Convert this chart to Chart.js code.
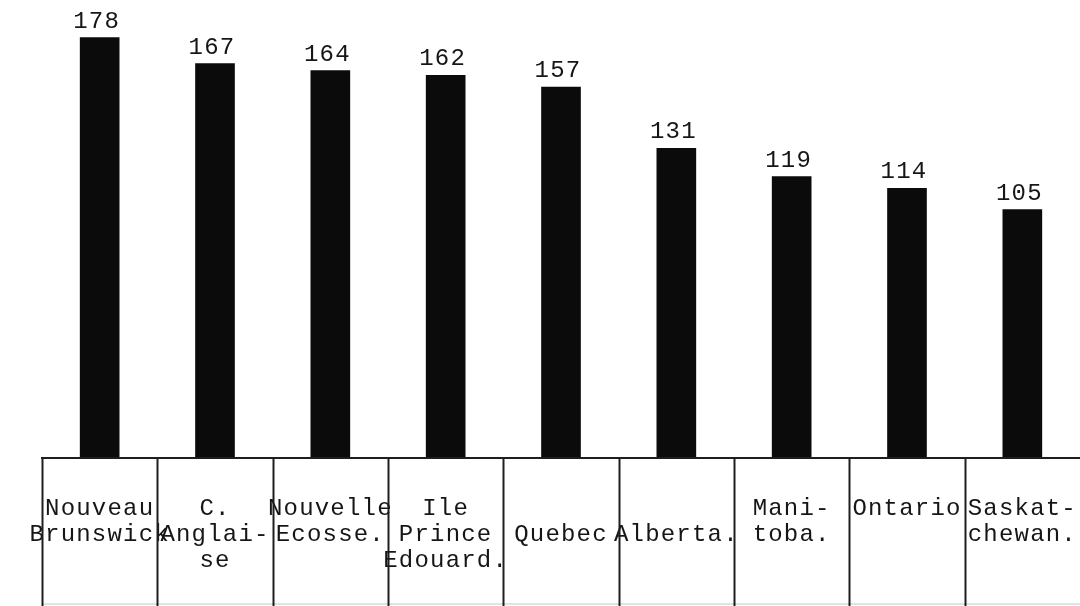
<!DOCTYPE html>
<html>
<head>
<meta charset="utf-8">
<script src="https://cdn.jsdelivr.net/npm/chart.js@4/dist/chart.umd.min.js"></script>
<style>
  html, body { margin: 0; padding: 0; background: #ffffff; }
  #wrap { width: 1080px; height: 606px; position: relative; }
</style>
</head>
<body>
<div id="wrap"><canvas id="c"></canvas></div>
<script>
// ---- data ----
const categories = [
  ["Nouveau", "Brunswick"],
  ["C.", "Anglai-", "se"],
  ["Nouvelle", "Ecosse."],
  ["Ile", "Prince", "Edouard."],
  ["", "Quebec"],
  ["", "Alberta."],
  ["Mani-", "toba."],
  ["Ontario"],
  ["Saskat-", "chewan."]
];
const values = [178, 167, 164, 162, 157, 131, 119, 114, 105];

const INK = '#161616';
const FONT = { family: '"Liberation Mono", "DejaVu Sans Mono", monospace', size: 24, lineHeight: '26px' };

const typewriterPlugin = {
  id: 'typewriter',
  beforeDraw(chart) {
    const ctx = chart.ctx;
    ctx.save();
    ctx.fillStyle = '#ffffff';
    ctx.fillRect(0, 0, chart.width, chart.height);
    ctx.restore();
    ctx.letterSpacing = '1.2px';
  },
  afterDraw(chart) {
    const ctx = chart.ctx;
    const area = chart.chartArea;
    const xs = chart.scales.x;
    const n = categories.length;
    const w = (xs.right - xs.left) / n;
    ctx.save();
    ctx.strokeStyle = '#1e1e1e';
    ctx.lineWidth = 2;
    // table top line
    ctx.beginPath();
    ctx.moveTo(xs.left - 1, area.bottom + 1);
    ctx.lineTo(chart.width, area.bottom + 1);
    ctx.stroke();
    // cell separators
    for (let i = 0; i < n; i++) {
      const x = Math.round(xs.getPixelForValue(i) - w / 2) + 0.5;
      ctx.beginPath();
      ctx.moveTo(x, area.bottom);
      ctx.lineTo(x, chart.height);
      ctx.stroke();
    }
    // faint bottom line
    ctx.strokeStyle = 'rgba(0,0,0,0.15)';
    ctx.lineWidth = 1.5;
    ctx.beginPath();
    ctx.moveTo(xs.left, chart.height - 2);
    ctx.lineTo(chart.width, chart.height - 2);
    ctx.stroke();
    // value labels
    const meta = chart.getDatasetMeta(0);
    ctx.fillStyle = INK;
    ctx.font = FONT.size + 'px ' + FONT.family;
    ctx.letterSpacing = '1.2px';
    ctx.textAlign = 'center';
    ctx.textBaseline = 'alphabetic';
    meta.data.forEach((bar, i) => {
      ctx.fillText(String(values[i]), bar.x - 3, bar.y - 10);
    });
    ctx.restore();
  }
};

new Chart(document.getElementById('c'), {
  type: 'bar',
  data: {
    labels: categories,
    datasets: [{
      data: values,
      backgroundColor: '#0b0b0b',
      borderWidth: 0,
      barThickness: 39
    }]
  },
  options: {
    responsive: true,
    maintainAspectRatio: false,
    animation: false,
    devicePixelRatio: 1,
    layout: { padding: { left: 42, right: 0, top: 0, bottom: 0 } },
    plugins: {
      legend: { display: false },
      tooltip: { enabled: false },
      title: { display: false }
    },
    scales: {
      y: {
        display: false,
        min: 0,
        max: 194
      },
      x: {
        offset: true,
        grid: { display: false, drawTicks: false },
        border: { display: false },
        ticks: {
          color: INK,
          font: FONT,
          padding: 39,
          autoSkip: false,
          maxRotation: 0,
          minRotation: 0
        },
        afterFit(scale) {
          scale.height = 149;
          scale.paddingLeft = 0;
          scale.paddingRight = 0;
        }
      }
    }
  },
  plugins: [typewriterPlugin]
});
</script>
</body>
</html>
